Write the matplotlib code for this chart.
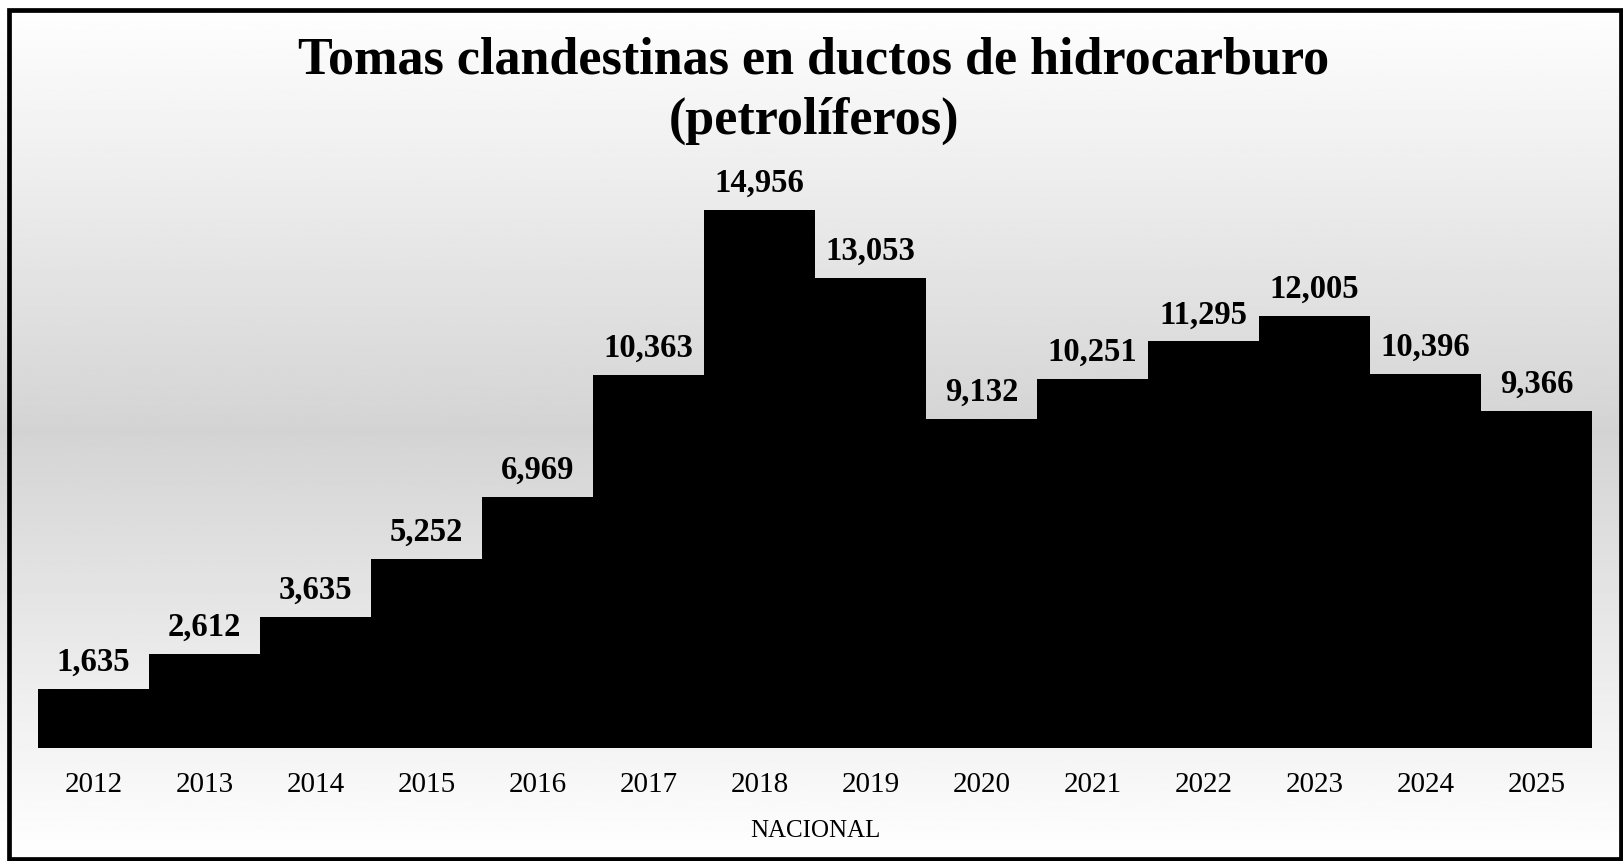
import numpy as np
import matplotlib.pyplot as plt
from matplotlib.patches import Rectangle

years = ['2012', '2013', '2014', '2015', '2016', '2017', '2018',
         '2019', '2020', '2021', '2022', '2023', '2024', '2025']
tomas = [1635, 2612, 3635, 5252, 6969, 10363, 14956,
         13053, 9132, 10251, 11295, 12005, 10396, 9366]

W, H = 1623, 861
serif = 'Liberation Serif'
fig = plt.figure(figsize=(W / 100, H / 100), dpi=100)

# fondo degradado blanco -> gris -> blanco
bg = fig.add_axes([0, 0, 1, 1], zorder=0)
t = np.linspace(0, 1, 500)
grad = 1 - 0.17 * (1 - np.abs(2 * t - 1))
bg.imshow(np.tile(grad[:, None], (1, 10)), cmap='gray', vmin=0, vmax=1,
          aspect='auto', extent=[0, 1, 0, 1], origin='lower', interpolation='bilinear')
bg.set_xlim(0, 1)
bg.set_ylim(0, 1)
bg.axis('off')
bg.add_patch(Rectangle((8.5 / W, 2 / H), (1620.5 - 8.5) / W, (855 - 6) / H, fill=False,
                       edgecolor='black', linewidth=3.4, transform=bg.transAxes))

left, right, bottom, top = 38, 1592, 748, 172
ax = fig.add_axes([left / W, 1 - bottom / H, (right - left) / W, (bottom - top) / H], zorder=1)
ax.patch.set_alpha(0)
x = np.arange(len(years))
ax.bar(x, tomas, width=1.0, color='black', linewidth=0, antialiased=False)
ax.set_xlim(-0.5, len(years) - 0.5)
ax.set_ylim(0, 16000)

for xi, v in zip(x, tomas):
    ax.annotate(f'{v:,}', (xi, v), xytext=(0, 13), textcoords='offset points',
                ha='center', va='baseline', fontsize=23.5, fontweight='bold', family=serif)

ax.set_xticks(x)
ax.set_xticklabels(years, fontsize=21, family=serif)
ax.tick_params(axis='x', length=0, pad=17)
ax.set_yticks([])
for s in ax.spines.values():
    s.set_visible(False)
ax.set_xlabel('NACIONAL', fontsize=18, family=serif, labelpad=16)

fig.text(814 / W, 1 - 73 / H, 'Tomas clandestinas en ductos de hidrocarburo',
         ha='center', va='baseline', fontsize=37.5, fontweight='bold', family=serif)
fig.text(814 / W, 1 - 134 / H, '(petrolíferos)',
         ha='center', va='baseline', fontsize=37.5, fontweight='bold', family=serif)

fig.savefig('out.png', dpi=100)
